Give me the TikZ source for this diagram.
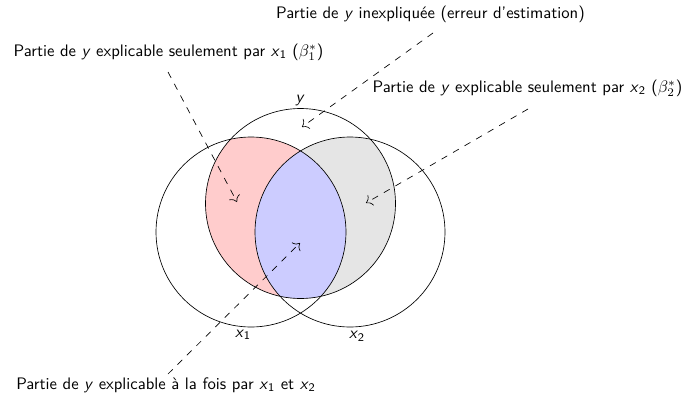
\documentclass[tikz,border=0pt]{standalone}
\usetikzlibrary{arrows.meta}
\begin{document}
\begin{tikzpicture}[x=0.6pt,y=-0.6pt, font=\sffamily,
  lbl/.style={inner sep=0pt},
  arr/.style={-{To[scale=1.4]},dash pattern=on 4pt off 4pt},
  ring/.style={draw=black}]
\useasboundingbox (0,0) rectangle (690,399);
\def\R{57pt}
\coordinate (cy) at (300.5,203.5);
\coordinate (c1) at (251,232);
\coordinate (c2) at (350,232);
\begin{scope}
  \clip (cy) circle[radius=\R];
  \fill[red!20] (c1) circle[radius=\R];
  \fill[gray!20] (c2) circle[radius=\R];
  \clip (c1) circle[radius=\R];
  \fill[blue!20] (c2) circle[radius=\R];
\end{scope}
\draw[ring] (cy) circle[radius=\R];
\draw[ring] (c1) circle[radius=\R];
\draw[ring] (c2) circle[radius=\R];
\node[lbl] (ly) at (300,101) {\textit{y}};
\node[lbl] (lx1) at (243,335) {\textit{x}\textsubscript{1}};
\node[lbl] (lx2) at (357,336.5) {\textit{x}\textsubscript{2}};
\node[lbl] (tt) at (430.5,14) {Partie de \textit{y} inexpliquée (erreur d'estimation)};
\node[lbl] (tl) at (168.5,52) {Partie de \textit{y} explicable seulement par \textit{x}\textsubscript{1} ($\beta_1^*$)};
\node[lbl] (tr) at (527.5,88) {Partie de \textit{y} explicable seulement par \textit{x}\textsubscript{2} ($\beta_2^*$)};
\node[lbl] (tb) at (166,385) {Partie de \textit{y} explicable à la fois par \textit{x}\textsubscript{1} et \textit{x}\textsubscript{2}};
\coordinate (sa) at (433,33);
\coordinate (ea) at (302,127);
\coordinate (sb) at (168,72);
\coordinate (eb) at (237,202);
\coordinate (sc) at (528,109);
\coordinate (ec) at (366,203);
\coordinate (sd) at (168,374);
\coordinate (ed) at (300,243);
\draw[arr] (sa) -- (ea);
\draw[arr] (sb) -- (eb);
\draw[arr] (sc) -- (ec);
\draw[arr] (sd) -- (ed);
\end{tikzpicture}
\end{document}
